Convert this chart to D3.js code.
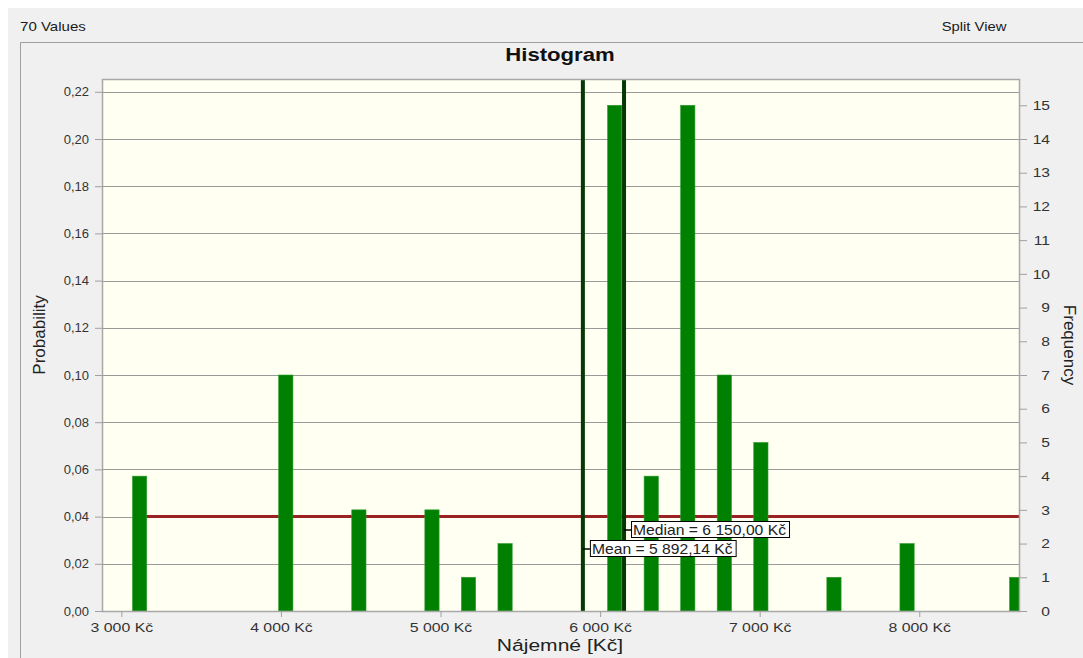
<!DOCTYPE html>
<html>
<head>
<meta charset="utf-8">
<script src="https://cdn.jsdelivr.net/npm/d3@7"></script>
<style>
  body { margin: 0; background: #fff; }
  text { font-family: "Liberation Sans", Arial, sans-serif; }
</style>
</head>
<body>
<div id="wrapper"></div>
<script>
// histogram: start of each non-empty bin [Kč] and its count
const binStarts = [3000, 3916, 4374, 4832, 5061, 5290, 5977, 6206, 6435, 6664, 6893, 7351, 7809, 8496]
const counts = [4, 7, 3, 3, 1, 2, 15, 4, 15, 7, 5, 1, 2, 1]
const binWidth = 229
const totalCount = 70

const mean = 5892.14
const median = 6150
// fitted uniform density line
const uniformLevel = 0.04
const uniformRange = [3075, 8625]

const probTicks = [0, 0.02, 0.04, 0.06, 0.08, 0.10, 0.12, 0.14, 0.16, 0.18, 0.20, 0.22]
const freqTicks = [0, 1, 2, 3, 4, 5, 6, 7, 8, 9, 10, 11, 12, 13, 14, 15]
const xTicks = [3000, 4000, 5000, 6000, 7000, 8000]
const xDomain = [2885, 8625]
const probMax = 0.225

const cz = d3.formatLocale({decimal: ",", thousands: "\u00a0", grouping: [3], currency: ["", "\u00a0Kč"]})
const fmtKc = cz.format("$,.0f")
const fmtKc2 = cz.format("$,.2f")
const fmtProb = cz.format(".2f")

const width = 1083
const height = 658
const dimensions = {
    width,
    height,
    margin: {top: 80, right: 64, bottom: 47, left: 103}
}
dimensions.boundedWidth = dimensions.width - dimensions.margin.left - dimensions.margin.right
dimensions.boundedHeight = dimensions.height - dimensions.margin.top - dimensions.margin.bottom

const svg = d3.select('#wrapper')
    .append('svg')
    .attr('width', width)
    .attr('height', height)

// window background and panel frame
svg.append('rect').attr('width', width).attr('height', height).attr('fill', '#fff')
svg.append('rect').attr('x', 8).attr('y', 8).attr('width', width - 8).attr('height', height - 8).attr('fill', '#f0f0f0')
svg.append('path')
    .attr('d', `M20.5,${height} V42.5 H${width}`)
    .attr('fill', 'none').attr('stroke', '#a0a0a0')

const stretchText = (sel, x, y, f) => sel.attr('x', 0).attr('y', 0)
    .attr('transform', `translate(${x},${y}) scale(${f},1)`)

svg.append('text').text('70 Values')
    .attr('font-size', 13).attr('fill', '#1a1a1a')
    .call(stretchText, 20, 31, 1.16)
svg.append('text').text('Split View')
    .attr('font-size', 13).attr('fill', '#1a1a1a').attr('text-anchor', 'middle')
    .call(stretchText, 974, 31, 1.14)
svg.append('text').text('Histogram')
    .attr('font-size', 18).attr('font-weight', 'bold').attr('fill', '#111').attr('text-anchor', 'middle')
    .call(stretchText, 560, 61, 1.23)

const bounds = svg.append('g')
    .attr('transform', `translate(${dimensions.margin.left},${dimensions.margin.top})`)

const xScale = d3.scaleLinear().domain(xDomain).range([0, dimensions.boundedWidth])
const yScale = d3.scaleLinear().domain([0, probMax]).range([dimensions.boundedHeight, 0])
const freqScale = d3.scaleLinear().domain([0, probMax * totalCount]).range([dimensions.boundedHeight, 0])

bounds.append('rect')
    .attr('width', dimensions.boundedWidth).attr('height', dimensions.boundedHeight)
    .attr('fill', '#fffff2')

bounds.append('clipPath').attr('id', 'plotClip')
    .append('rect').attr('width', dimensions.boundedWidth).attr('height', dimensions.boundedHeight)

// horizontal grid
bounds.append('g').selectAll('line')
    .data(probTicks.filter(d => d > 0))
    .join('line')
    .attr('x1', 0).attr('x2', dimensions.boundedWidth)
    .attr('y1', d => Math.round(yScale(d)) + 0.5).attr('y2', d => Math.round(yScale(d)) + 0.5)
    .attr('stroke', '#9a9a9a').attr('stroke-width', 1.2)

// uniform fit
bounds.append('line')
    .attr('x1', xScale(uniformRange[0])).attr('x2', xScale(uniformRange[1]))
    .attr('y1', yScale(uniformLevel)).attr('y2', yScale(uniformLevel))
    .attr('stroke', '#9b2222').attr('stroke-width', 3)

// bars
const barShare = 0.39
bounds.append('g').attr('clip-path', 'url(#plotClip)')
    .selectAll('rect')
    .data(binStarts.map((s, i) => ({start: s, count: counts[i]})))
    .join('rect')
    .attr('x', d => xScale(d.start + binWidth * (1 - barShare) / 2))
    .attr('width', d => xScale(d.start + binWidth * (1 + barShare) / 2) - xScale(d.start + binWidth * (1 - barShare) / 2))
    .attr('y', d => yScale(d.count / totalCount))
    .attr('height', d => dimensions.boundedHeight - yScale(d.count / totalCount))
    .attr('fill', '#008000')
    .attr('stroke', '#2f9a2f').attr('stroke-width', 0.6)

// mean / median markers
const markers = [
    {name: 'Median', value: median, labelY: 450},
    {name: 'Mean', value: mean, labelY: 469}
]
bounds.append('g').selectAll('line')
    .data(markers)
    .join('line')
    .attr('x1', d => xScale(d.value)).attr('x2', d => xScale(d.value))
    .attr('y1', 0).attr('y2', dimensions.boundedHeight)
    .attr('stroke', '#063806').attr('stroke-width', 4)

// plot border
bounds.append('rect')
    .attr('x', -0.5).attr('y', -0.5)
    .attr('width', dimensions.boundedWidth + 1).attr('height', dimensions.boundedHeight + 1)
    .attr('fill', 'none').attr('stroke', '#a8a8a8').attr('stroke-width', 1.5)

// marker labels
const labels = bounds.append('g').selectAll('g')
    .data(markers)
    .join('g')
    .attr('transform', d => `translate(${xScale(d.value)},${d.labelY})`)
labels.append('line')
    .attr('x1', 0).attr('x2', 7).attr('y1', 0).attr('y2', 0)
    .attr('stroke', '#000').attr('stroke-width', 1.5)
const labelFactor = 1.12
labels.append('text')
    .text(d => `${d.name} = ${fmtKc2(d.value)}`)
    .attr('font-size', 14).attr('fill', '#222')
    .attr('transform', `translate(9,5) scale(${labelFactor},1)`)
labels.insert('rect', 'text')
    .attr('x', 7.5).attr('y', -8.5)
    .attr('height', 16)
    .attr('fill', '#fff').attr('stroke', '#000')
    .each(function() {
        const t = d3.select(this.parentNode).select('text').node()
        d3.select(this).attr('width', t.getComputedTextLength() * labelFactor + 5)
    })

// axes
const styleAxis = g => {
    g.select('.domain').remove()
    g.selectAll('.tick line').attr('stroke', '#a0a0a0')
    g.selectAll('.tick text').attr('fill', '#333').attr('font-family', '"Liberation Sans", Arial, sans-serif')
}

bounds.append('g')
    .call(d3.axisLeft(yScale).tickValues(probTicks).tickFormat(fmtProb).tickSize(8).tickPadding(6))
    .call(styleAxis)
    .selectAll('.tick text').attr('font-size', 13)

const rightFactor = 1.2
bounds.append('g')
    .attr('transform', `translate(${dimensions.boundedWidth},0)`)
    .call(d3.axisRight(freqScale).tickValues(freqTicks).tickFormat(d3.format('d')).tickSize(8))
    .call(styleAxis)
    .selectAll('.tick text')
    .attr('font-size', 13).attr('text-anchor', 'end')
    .attr('x', 31 / rightFactor)
    .attr('transform', `scale(${rightFactor},1)`)

const xFactor = 1.27
bounds.append('g')
    .attr('transform', `translate(0,${dimensions.boundedHeight})`)
    .call(d3.axisBottom(xScale).tickValues(xTicks).tickFormat(fmtKc).tickSize(6).tickPadding(6))
    .call(styleAxis)
    .selectAll('.tick text')
    .attr('font-size', 12.5)
    .attr('transform', `scale(${xFactor},1)`)

// axis titles
svg.append('text').text('Nájemné [Kč]')
    .attr('font-size', 17).attr('fill', '#222').attr('text-anchor', 'middle')
    .call(stretchText, 560, 651, 1.24)
svg.append('text').text('Probability')
    .attr('font-size', 17).attr('fill', '#222').attr('text-anchor', 'middle')
    .attr('transform', 'translate(45,335) rotate(-90)')
svg.append('text').text('Frequency')
    .attr('font-size', 17).attr('fill', '#222').attr('text-anchor', 'middle')
    .attr('transform', 'translate(1064,345) rotate(90)')
</script>
</body>
</html>
